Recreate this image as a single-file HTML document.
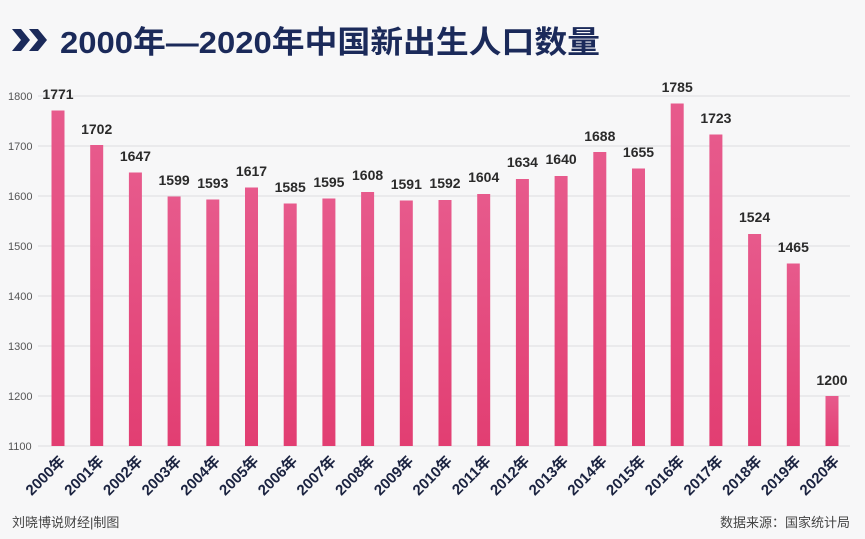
<!DOCTYPE html>
<html><head><meta charset="utf-8"><style>
body{margin:0;background:#f7f7f8;}
svg{display:block;font-family:"Liberation Sans","Noto Sans CJK SC",sans-serif;}
</style></head><body>
<svg width="865" height="539" viewBox="0 0 865 539" xmlns="http://www.w3.org/2000/svg">
<defs><linearGradient id="g" x1="0" y1="0" x2="0" y2="1"><stop offset="0" stop-color="#e75a8c"/><stop offset="1" stop-color="#e23e72"/></linearGradient></defs>
<rect width="865" height="539" fill="#f7f7f8"/>
<polygon points="12,29 21,29 30,40 21,51 12,51 21,40" fill="#1b2a5a"/>
<polygon points="29,29 38,29 47,40 38,51 29,51 38,40" fill="#1b2a5a"/>
<text x="60" y="53" font-size="31" font-weight="bold" fill="#1b2a5a" textLength="540" lengthAdjust="spacingAndGlyphs">2000年—2020年中国新出生人口数量</text>
<g stroke="#dcdcdf" stroke-width="1">
<line x1="38" y1="96" x2="850" y2="96"/><line x1="38" y1="146" x2="850" y2="146"/><line x1="38" y1="196" x2="850" y2="196"/><line x1="38" y1="246" x2="850" y2="246"/><line x1="38" y1="296" x2="850" y2="296"/><line x1="38" y1="346" x2="850" y2="346"/><line x1="38" y1="396" x2="850" y2="396"/><line x1="38" y1="446" x2="850" y2="446"/>
</g>
<g font-size="11" fill="#555" text-anchor="start">
<text x="8" y="100">1800</text><text x="8" y="150">1700</text><text x="8" y="200">1600</text><text x="8" y="250">1500</text><text x="8" y="300">1400</text><text x="8" y="350">1300</text><text x="8" y="400">1200</text><text x="8" y="450">1100</text>
</g>
<g fill="url(#g)">
<rect x="51.5" y="110.5" width="13" height="335.5"/>
<rect x="90.2" y="145" width="13" height="301"/>
<rect x="128.9" y="172.5" width="13" height="273.5"/>
<rect x="167.6" y="196.5" width="13" height="249.5"/>
<rect x="206.3" y="199.5" width="13" height="246.5"/>
<rect x="245" y="187.5" width="13" height="258.5"/>
<rect x="283.7" y="203.5" width="13" height="242.5"/>
<rect x="322.4" y="198.5" width="13" height="247.5"/>
<rect x="361.1" y="192" width="13" height="254"/>
<rect x="399.8" y="200.5" width="13" height="245.5"/>
<rect x="438.5" y="200" width="13" height="246"/>
<rect x="477.2" y="194" width="13" height="252"/>
<rect x="515.9" y="179" width="13" height="267"/>
<rect x="554.6" y="176" width="13" height="270"/>
<rect x="593.3" y="152" width="13" height="294"/>
<rect x="632" y="168.5" width="13" height="277.5"/>
<rect x="670.7" y="103.5" width="13" height="342.5"/>
<rect x="709.4" y="134.5" width="13" height="311.5"/>
<rect x="748.1" y="234" width="13" height="212"/>
<rect x="786.8" y="263.5" width="13" height="182.5"/>
<rect x="825.5" y="396" width="13" height="50"/>
</g>
<g font-size="14" font-weight="bold" fill="#2a2a2a" text-anchor="middle">
<text x="58" y="99">1771</text><text x="96.7" y="134">1702</text><text x="135.4" y="161">1647</text><text x="174.1" y="185">1599</text><text x="212.8" y="188">1593</text><text x="251.5" y="176">1617</text><text x="290.2" y="192">1585</text><text x="328.9" y="187">1595</text><text x="367.6" y="180">1608</text><text x="406.3" y="189">1591</text><text x="445" y="188">1592</text><text x="483.7" y="182">1604</text><text x="522.4" y="167">1634</text><text x="561.1" y="164">1640</text><text x="599.8" y="141">1688</text><text x="638.5" y="157">1655</text><text x="677.2" y="92">1785</text><text x="715.9" y="123">1723</text><text x="754.6" y="222">1524</text><text x="793.3" y="252">1465</text><text x="832" y="385">1200</text>
</g>
<g font-size="15" font-weight="bold" fill="#1b2340" text-anchor="end">
<text transform="translate(66,462) rotate(-45)">2000年</text>
<text transform="translate(104.7,462) rotate(-45)">2001年</text>
<text transform="translate(143.4,462) rotate(-45)">2002年</text>
<text transform="translate(182.1,462) rotate(-45)">2003年</text>
<text transform="translate(220.8,462) rotate(-45)">2004年</text>
<text transform="translate(259.5,462) rotate(-45)">2005年</text>
<text transform="translate(298.2,462) rotate(-45)">2006年</text>
<text transform="translate(336.9,462) rotate(-45)">2007年</text>
<text transform="translate(375.6,462) rotate(-45)">2008年</text>
<text transform="translate(414.3,462) rotate(-45)">2009年</text>
<text transform="translate(453,462) rotate(-45)">2010年</text>
<text transform="translate(491.7,462) rotate(-45)">2011年</text>
<text transform="translate(530.4,462) rotate(-45)">2012年</text>
<text transform="translate(569.1,462) rotate(-45)">2013年</text>
<text transform="translate(607.8,462) rotate(-45)">2014年</text>
<text transform="translate(646.5,462) rotate(-45)">2015年</text>
<text transform="translate(685.2,462) rotate(-45)">2016年</text>
<text transform="translate(723.9,462) rotate(-45)">2017年</text>
<text transform="translate(762.6,462) rotate(-45)">2018年</text>
<text transform="translate(801.3,462) rotate(-45)">2019年</text>
<text transform="translate(840,462) rotate(-45)">2020年</text>
</g>
<text x="12" y="527" font-size="13" fill="#444">刘晓博说财经|制图</text>
<text x="850" y="527" font-size="13" fill="#444" text-anchor="end">数据来源：国家统计局</text>
</svg>
</body></html>
